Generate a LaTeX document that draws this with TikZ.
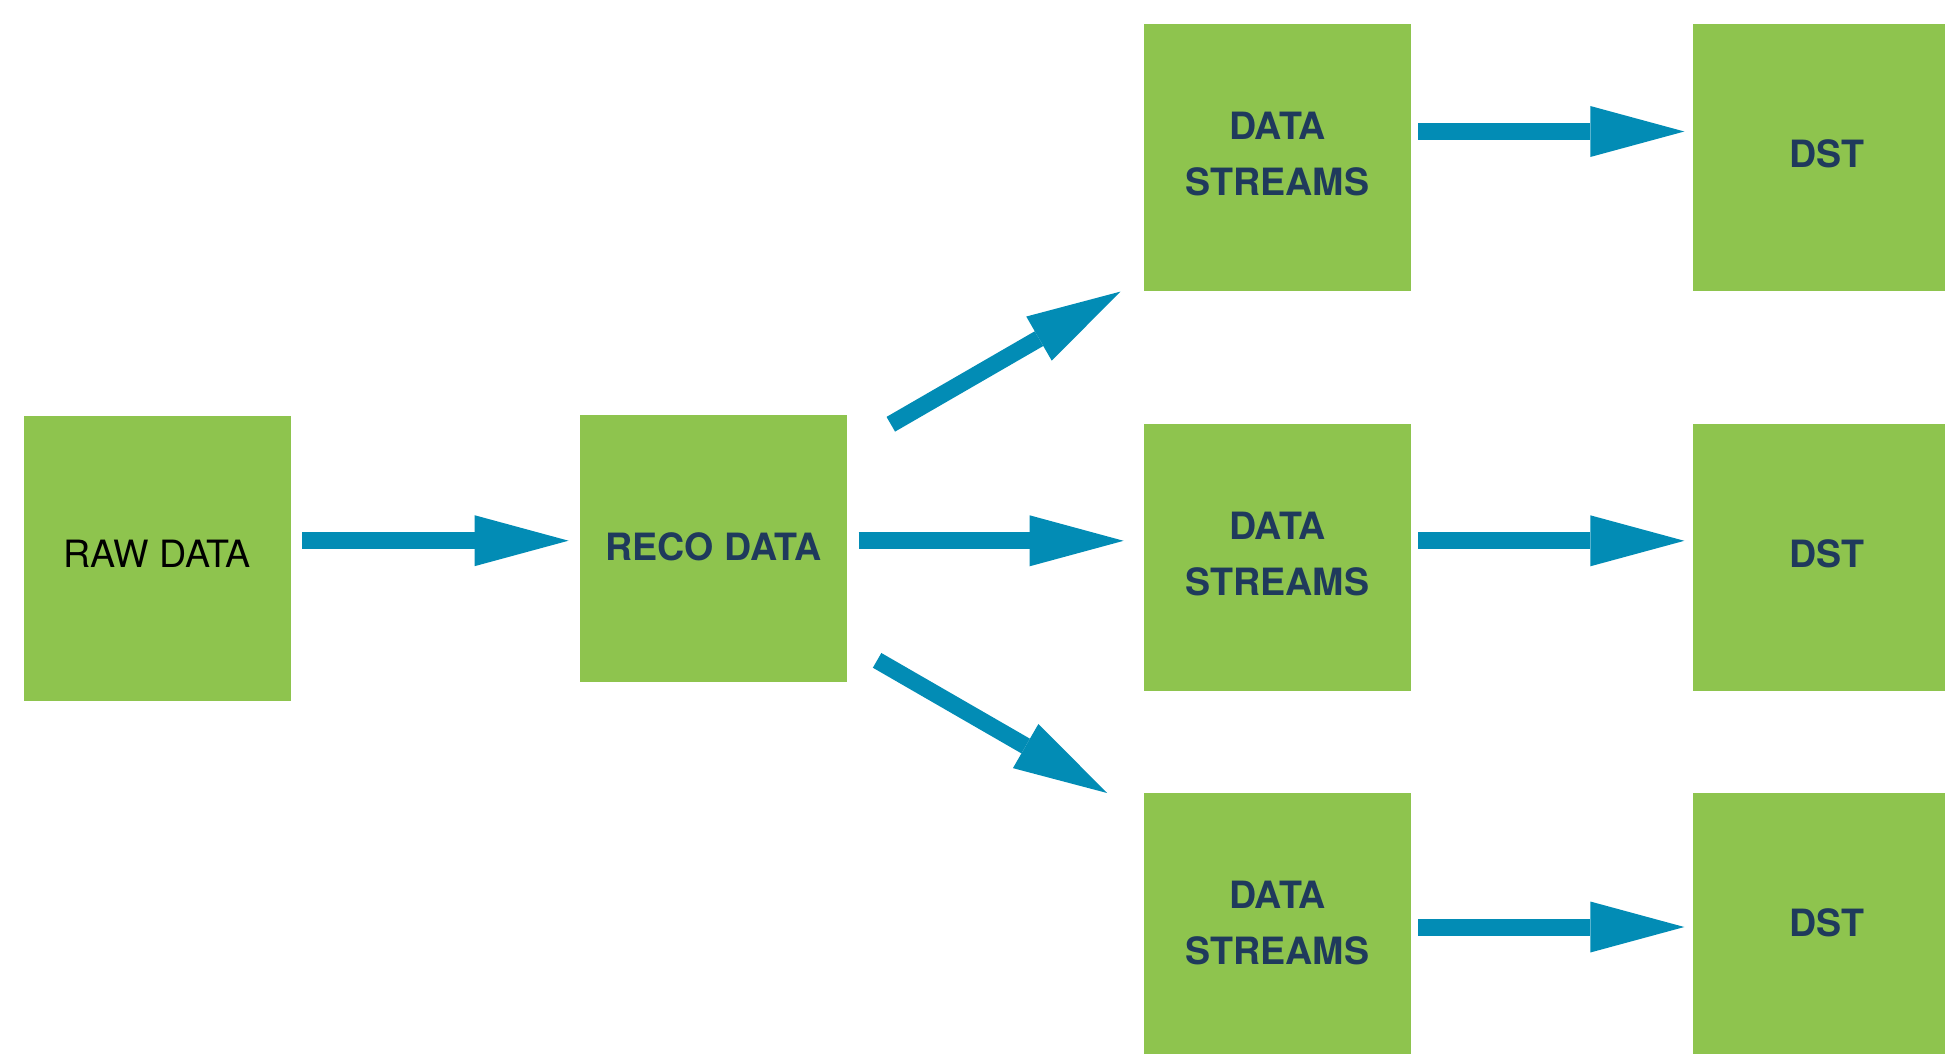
\documentclass[tikz,border=0pt]{standalone}
\usepackage{fontspec}
\setmainfont{TeX Gyre Heros}
\usetikzlibrary{arrows.meta,calc}
\definecolor{boxgreen}{RGB}{142,196,78}
\definecolor{flowblue}{RGB}{2,140,181}
\definecolor{labelnavy}{RGB}{31,58,92}

\begin{document}
\begin{tikzpicture}[x=1pt,y=-1pt,
  stage/.style={fill=boxgreen, inner sep=0pt, minimum width=267pt,
    minimum height=267pt, align=center, text=labelnavy, text depth=7pt,
    font=\fontsize{37.6}{56}\selectfont\bfseries},
  flow/.style={draw=flowblue, line width=17pt,
    -{Triangle[length=94pt,width=51pt,line width=0pt]}}]
\useasboundingbox (0,0) rectangle (1945,1054);
\clip (0,0) rectangle (1945,1054);

% processing stages
\node[stage, minimum height=285.5pt, text=black, text depth=9pt,
      font=\fontsize{37.6}{56}\selectfont] (raw) at (157,558.25) {RAW DATA};
\node[stage, minimum height=266.7pt, text depth=4pt] (reco) at (713.5,548.3) {RECO DATA};

\node[stage] (ds1) at (1277.5,157.5) {DATA\\STREAMS};
\node[stage] (ds2) at (1277.5,557.5) {DATA\\STREAMS};
\node[stage] (ds3) at (1277.5,926.5) {DATA\\STREAMS};

\node[stage] (dst1) at (1826.5,157.5) {DST};
\node[stage] (dst2) at (1826.5,557.5) {DST};
\node[stage] (dst3) at (1826.5,926.5) {DST};

% data flow
\draw[flow, shorten <=11.5pt, shorten >=11.3pt]
  (raw.east |- 0,540.7) -- (reco.west |- 0,540.7);
\draw[flow, shorten <=11.4pt, shorten >=20.2pt]
  (reco.east |- 0,540.8) -- (ds2.west |- 0,540.8);
\draw[flow] ($(reco.north east)+(43.6,9.5)$) -- ($(ds1.south west)+(-23.4,0.4)$);
\draw[flow] ($(reco.south east)+(29.9,-21.5)$) -- ($(ds3.north west)+(-36.7,0.2)$);

\draw[flow, shorten <=7pt, shorten >=8.5pt]
  (ds1.east |- 0,131.5) -- (dst1.west |- 0,131.5);
\draw[flow, shorten <=7pt, shorten >=8.5pt]
  (ds2.east |- 0,540.8) -- (dst2.west |- 0,540.8);
\draw[flow, shorten <=7pt, shorten >=8.5pt]
  (ds3.east |- 0,927) -- (dst3.west |- 0,927);
\end{tikzpicture}
\end{document}
